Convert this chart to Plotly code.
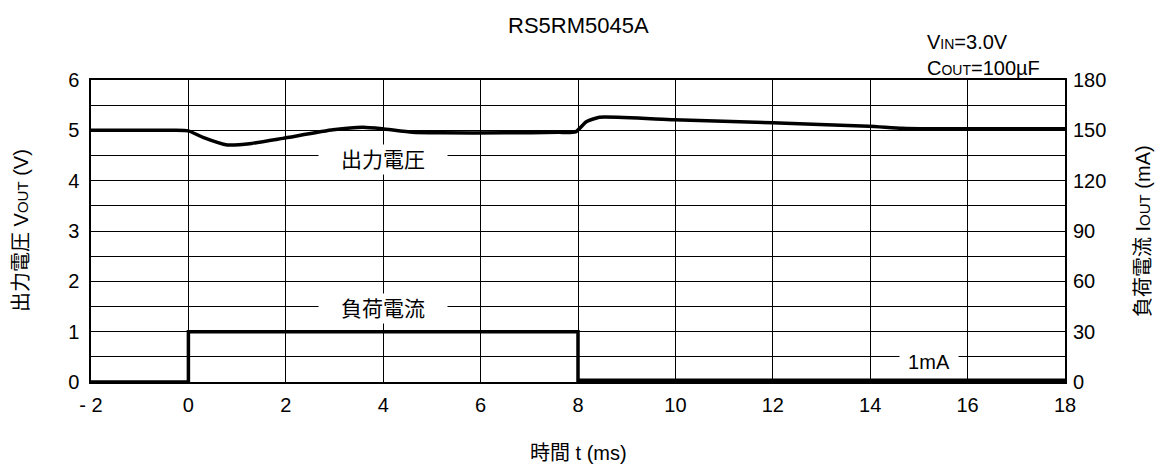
import plotly.graph_objects as go

# ---- data ----
time_v = [-2, -1, -0.3, 0, 0.3, 0.8, 1.3, 1.94, 2.97, 3.58, 3.98, 4.6, 5.2, 6.5, 7.6, 7.95, 8.17, 8.44, 9.97, 11.99, 13.97, 14.65, 15.2, 16.5, 18.0]
vout = [5.0, 5.0, 5.0, 4.99, 4.86, 4.71, 4.74, 4.84, 5.01, 5.06, 5.03, 4.96, 4.95, 4.95, 4.96, 4.97, 5.17, 5.26, 5.21, 5.15, 5.08, 5.04, 5.03, 5.03, 5.03]

time_i = [-2, 0, 0, 8, 8, 18]
iout = [0, 0, 30, 30, 1, 1]

x_tickvals = [-2, 0, 2, 4, 6, 8, 10, 12, 14, 16, 18]
x_ticktext = ["- 2", "0", "2", "4", "6", "8", "10", "12", "14", "16", "18"]
y_tickvals = [0, 1, 2, 3, 4, 5, 6]
y2_tickvals = [0, 30, 60, 90, 120, 150, 180]

FONT = "Liberation Sans, Arial, Noto Sans CJK JP, sans-serif"

fig = go.Figure()
fig.add_trace(go.Scatter(x=time_v, y=vout, mode="lines",
                         line=dict(color="black", width=3.5, shape="spline", smoothing=0.5),
                         yaxis="y", showlegend=False, hoverinfo="skip"))
fig.add_trace(go.Scatter(x=time_i, y=iout, mode="lines",
                         line=dict(color="black", width=3.5),
                         yaxis="y2", showlegend=False, hoverinfo="skip"))

axis_common = dict(showline=True, linecolor="black", linewidth=1.5, mirror=True, automargin=False,
                   zeroline=False, tickfont=dict(family=FONT, size=20, color="black"))

# page body has an 8px margin, so the figure is offset by 8px
fig.update_layout(
    width=1157, height=463,
    margin=dict(l=83, r=100, t=72, b=88.5, autoexpand=False),
    paper_bgcolor="white", plot_bgcolor="white",
    font=dict(family=FONT, color="black"),
    xaxis=dict(range=[-2, 18], tickvals=x_tickvals, ticktext=x_ticktext,
               showgrid=True, gridcolor="black", gridwidth=1, ticks="", ticklabelstandoff=4,
               **axis_common),
    yaxis=dict(range=[0, 6], tickvals=y_tickvals, showgrid=True, gridcolor="black", gridwidth=1,
               ticks="", ticklabelstandoff=6,
               minor=dict(dtick=0.5, showgrid=True, gridcolor="black", gridwidth=1),
               **axis_common),
    yaxis2=dict(range=[0, 180], tickvals=y2_tickvals, overlaying="y", side="right",
                showgrid=False, ticks="", showline=False, zeroline=False, automargin=False,
                ticklabelstandoff=7,
                tickfont=dict(family=FONT, size=20, color="black")),
)

ann = []
def a(text, x, y, xref="paper", yref="paper", size=20, **kw):
    d = dict(text=text, x=x, y=y, xref=xref, yref=yref, showarrow=False,
             font=dict(family=FONT, size=size, color="black"))
    d.update(kw)
    ann.append(d)

def py(pix):
    return (382.5 - pix) / 302.5

def px(pix):
    return (pix - 91) / 974

a("RS5RM5045A", 0.5, py(25), size=22, xanchor="center", yanchor="middle")
a("V<span style='font-size:14px'>IN</span>=3.0V<br>C<span style='font-size:14px'>OUT</span>=100µF",
  px(925), py(55), size=20, xanchor="left", yanchor="middle", align="left")
a("出力電圧 V<span style='font-size:15px'>OUT</span> (V)", px(21), 0.5, size=20,
  textangle=-90, xanchor="center", yanchor="middle")
a("負荷電流 I<span style='font-size:15px'>OUT</span> (mA)", px(1143), 0.5, size=20,
  textangle=-90, xanchor="center", yanchor="middle")
a("時間 t (ms)", 0.5, py(454), size=20, xanchor="center", yanchor="middle")

a("出力電圧", 4.0, 4.43, xref="x", yref="y", size=21, bgcolor="white", width=126, height=27)
a("負荷電流", 4.0, 1.46, xref="x", yref="y", size=21, bgcolor="white", width=126, height=27)
a("1mA", 15.2, 0.4, xref="x", yref="y", size=20, bgcolor="white", width=56, height=22)

fig.update_layout(annotations=ann)
fig.write_html("out.html")
